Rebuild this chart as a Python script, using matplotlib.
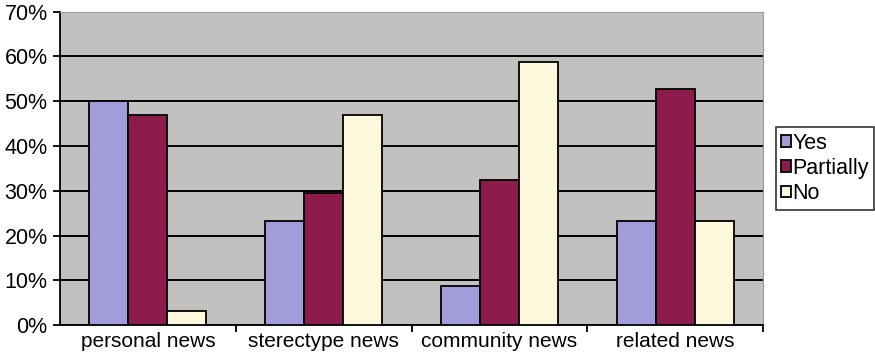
import matplotlib.pyplot as plt
import numpy as np
from matplotlib.ticker import FuncFormatter, FixedLocator

plt.rcParams['font.family'] = ['Liberation Sans', 'DejaVu Sans']

categories = ["personal news", "sterectype news", "community news", "related news"]
series_names = ["Yes", "Partially", "No"]
yes_vals = [50.0, 23.3, 8.7, 23.2]
partially_vals = [46.8, 29.5, 32.4, 52.7]
no_vals = [3.2, 46.9, 58.7, 23.2]
colors = ["#a29cdb", "#8b1c4b", "#fef9dc"]

fig = plt.figure(figsize=(8.75, 3.62), dpi=100)
ax = fig.add_axes([0.0686, 0.102, 0.8034, 0.866])
ax.set_facecolor("#c3c1bf")

x = np.arange(len(categories))
width = 0.222
for i, (vals, name) in enumerate(zip([yes_vals, partially_vals, no_vals], series_names)):
    ax.bar(x + (i - 1) * width, vals, width, color=colors[i], edgecolor="black",
           linewidth=1.3, label=name, zorder=3)

ax.set_xlim(-0.5, 3.5)
ax.set_ylim(0, 70)
ax.set_yticks(np.arange(0, 71, 10))
ax.yaxis.set_major_formatter(FuncFormatter(lambda v, p: f"{int(v)}%"))
ax.yaxis.grid(True, color="black", linewidth=1.4, zorder=1)
ax.set_axisbelow(True)

# category labels centred, ticks at the boundaries
ax.set_xticks(x)
ax.set_xticklabels(categories, fontsize=15)
ax.tick_params(axis="x", which="major", length=0, pad=5)
ax.xaxis.set_minor_locator(FixedLocator([0.5, 1.5, 2.5, 3.5]))
ax.tick_params(axis="x", which="minor", length=5, width=1.3, color="black")
ax.tick_params(axis="y", length=5, width=1.3, labelsize=15.5, pad=4)

ax.spines["left"].set_linewidth(1.3)
ax.spines["bottom"].set_linewidth(1.3)
ax.spines["top"].set_color("#999999")
ax.spines["right"].set_color("#999999")

leg = ax.legend(loc="center left", bbox_to_anchor=(1.0185, 0.5), fontsize=15.5,
                frameon=True, fancybox=False, edgecolor="black",
                handlelength=0.45, handleheight=0.45, handletextpad=0.05,
                borderpad=0.25, labelspacing=0.2, borderaxespad=0)
leg.get_frame().set_linewidth(1.2)

fig.savefig("out.png", dpi=100)
